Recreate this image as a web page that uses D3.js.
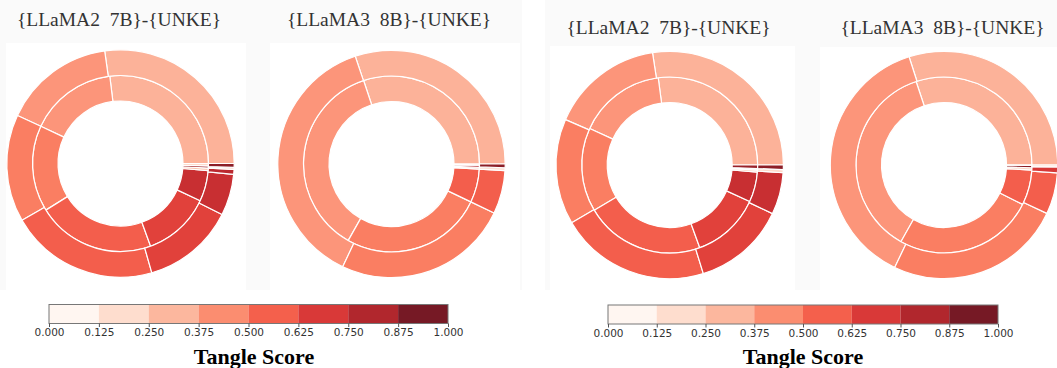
<!DOCTYPE html>
<html>
<head>
<meta charset="utf-8">
<script src="https://cdn.jsdelivr.net/npm/d3@7"></script>
<style>
  html, body { margin: 0; padding: 0; background: #fff; overflow: hidden; }
  svg { display: block; }
</style>
</head>
<body>
<svg id="chart" width="1057" height="368"></svg>
<script>
// Colour-bar bins of the tangle score
const binEdges = [0, 0.125, 0.25, 0.375, 0.5, 0.625, 0.75, 0.875, 1];
const binTickLabels = ["0.000", "0.125", "0.250", "0.375", "0.500", "0.625", "0.750", "0.875", "1.000"];
const modelNames = ["{LLaMA2  7B}-{UNKE}", "{LLaMA3  8B}-{UNKE}"];
const colorbarTitle = "Tangle Score";

// Rings: [tangle score, wedge size in degrees], counter-clockwise from 3 o'clock
const panelALlama2Inner = [[0.30, 97], [0.40, 58], [0.48, 57], [0.58, 78], [0.68, 45], [0.78, 20.4], [0.25, 1.6], [0.90, 1.4], [0.15, 1.6]];
const panelALlama2Outer = [[0.30, 98], [0.40, 57], [0.48, 55], [0.58, 76], [0.68, 47.3], [0.78, 21.2], [0.83, 2.5], [0.15, 1.0], [0.95, 2.0]];
const panelALlama3Inner = [[0.30, 108.5], [0.40, 132], [0.48, 94], [0.58, 22.1], [0.20, 1.2], [0.85, 1.4], [0.12, 0.8]];
const panelALlama3Outer = [[0.30, 108.6], [0.40, 136], [0.48, 89.9], [0.58, 22.2], [0.12, 1.4], [0.95, 1.9]];
const panelBLlama2Inner = [[0.30, 97.5], [0.40, 58], [0.48, 55.5], [0.58, 79], [0.68, 45.5], [0.78, 19.9], [0.25, 1.2], [0.12, 1.0], [0.92, 2.4]];
const panelBLlama2Outer = [[0.30, 98.7], [0.40, 57.8], [0.48, 54], [0.58, 76.7], [0.68, 47.5], [0.78, 21.4], [0.15, 1.6], [0.95, 2.3]];
const panelBLlama3Inner = [[0.30, 108.5], [0.40, 132.2], [0.48, 92.7], [0.58, 23.3], [0.18, 1.5], [0.95, 1.6], [0.12, 0.2]];
const panelBLlama3Outer = [[0.30, 107.9], [0.40, 136.4], [0.48, 90.5], [0.58, 21.2], [0.72, 3.0], [0.12, 1.0]];

const svg = d3.select("#chart");

// faint backdrop behind the titles
const backdrops = [[0, 0, 522, 290], [545, 0, 512, 290]];
svg.selectAll("rect.backdrop").data(backdrops).join("rect")
  .attr("class", "backdrop")
  .attr("x", d => d[0]).attr("y", d => d[1])
  .attr("width", d => d[2]).attr("height", d => d[3])
  .attr("fill", "#fafafa");

const plotBoxes = [
  [6, 43, 240, 247], [270, 43, 250, 247],
  [550, 46, 245, 244], [820, 47, 237, 243]
];
svg.selectAll("rect.plotbox").data(plotBoxes).join("rect")
  .attr("class", "plotbox")
  .attr("x", d => d[0]).attr("y", d => d[1])
  .attr("width", d => d[2]).attr("height", d => d[3])
  .attr("fill", "#fff");

const donuts = [
  { title: modelNames[0], inner: panelALlama2Inner, outer: panelALlama2Outer, cx: 120.5, cy: 163.5, tx: 119, ty: 25.5 },
  { title: modelNames[1], inner: panelALlama3Inner, outer: panelALlama3Outer, cx: 391.5, cy: 164, tx: 389, ty: 26 },
  { title: modelNames[0], inner: panelBLlama2Inner, outer: panelBLlama2Outer, cx: 669.7, cy: 165, tx: 668.5, ty: 34 },
  { title: modelNames[1], inner: panelBLlama3Inner, outer: panelBLlama3Outer, cx: 944, cy: 165, tx: 942.5, ty: 33.5 }
];

const pie = d3.pie().sort(null).value(d => d[1])
  .startAngle(Math.PI / 2).endAngle(Math.PI / 2 - 2 * Math.PI);

const rHole = 62.5, rMid = 88, rOuter = 113.7;
const innerArc = d3.arc().innerRadius(rHole).outerRadius(rMid);
const outerArc = d3.arc().innerRadius(rMid).outerRadius(rOuter);

donuts.forEach(dn => {
  const g = svg.append("g").attr("transform", `translate(${dn.cx},${dn.cy})`);
  [[dn.inner, innerArc], [dn.outer, outerArc]].forEach(([ring, arc]) => {
    g.append("g").selectAll("path").data(pie(ring)).join("path")
      .attr("d", arc)
      .attr("fill", d => d3.interpolateReds(d.data[0]))
      .attr("fill-opacity", 0.9)
      .attr("stroke", "#fff")
      .attr("stroke-width", 1.2)
      .attr("stroke-linejoin", "round");
  });
  svg.append("text")
    .attr("x", dn.tx).attr("y", dn.ty)
    .attr("text-anchor", "middle")
    .style("white-space", "pre")
    .attr("font-family", "'Liberation Serif', 'Times New Roman', serif")
    .attr("font-size", 19.5)
    .attr("fill", "#333")
    .text(dn.title);
});

// discrete colour bars
const colorbars = [
  { x0: 49, x1: 448, y: 304.5, h: 19, titleX: 254, titleY: 364 },
  { x0: 608, x1: 998, y: 305, h: 19, titleX: 803, titleY: 364 }
];
const binColor = i => d3.interpolateReds(i / (binEdges.length - 2));

colorbars.forEach(cb => {
  const x = d3.scaleLinear().domain([0, 1]).range([cb.x0, cb.x1]);
  const g = svg.append("g");
  g.selectAll("rect.bin").data(d3.pairs(binEdges)).join("rect")
    .attr("class", "bin")
    .attr("x", d => x(d[0])).attr("y", cb.y)
    .attr("width", d => x(d[1]) - x(d[0])).attr("height", cb.h)
    .attr("fill", (d, i) => binColor(i))
    .attr("fill-opacity", 0.9);
  g.append("rect")
    .attr("x", cb.x0).attr("y", cb.y)
    .attr("width", cb.x1 - cb.x0).attr("height", cb.h)
    .attr("fill", "none").attr("stroke", "#777").attr("stroke-width", 1);
  const axis = d3.axisBottom(x)
    .tickValues(binEdges)
    .tickFormat((d, i) => binTickLabels[i])
    .tickSize(3.5).tickPadding(2);
  const ag = g.append("g").attr("transform", `translate(0,${cb.y + cb.h})`).call(axis);
  ag.select(".domain").remove();
  ag.selectAll(".tick line").attr("stroke", "#555");
  ag.selectAll(".tick text")
    .attr("font-family", "'DejaVu Sans', sans-serif")
    .attr("font-size", 10.5)
    .attr("fill", "#333");
  svg.append("text")
    .attr("x", cb.titleX).attr("y", cb.titleY)
    .attr("text-anchor", "middle")
    .attr("font-family", "'Liberation Serif', 'Times New Roman', serif")
    .attr("font-weight", "bold")
    .attr("font-size", 22)
    .attr("fill", "#000")
    .text(colorbarTitle);
});
</script>
</body>
</html>
